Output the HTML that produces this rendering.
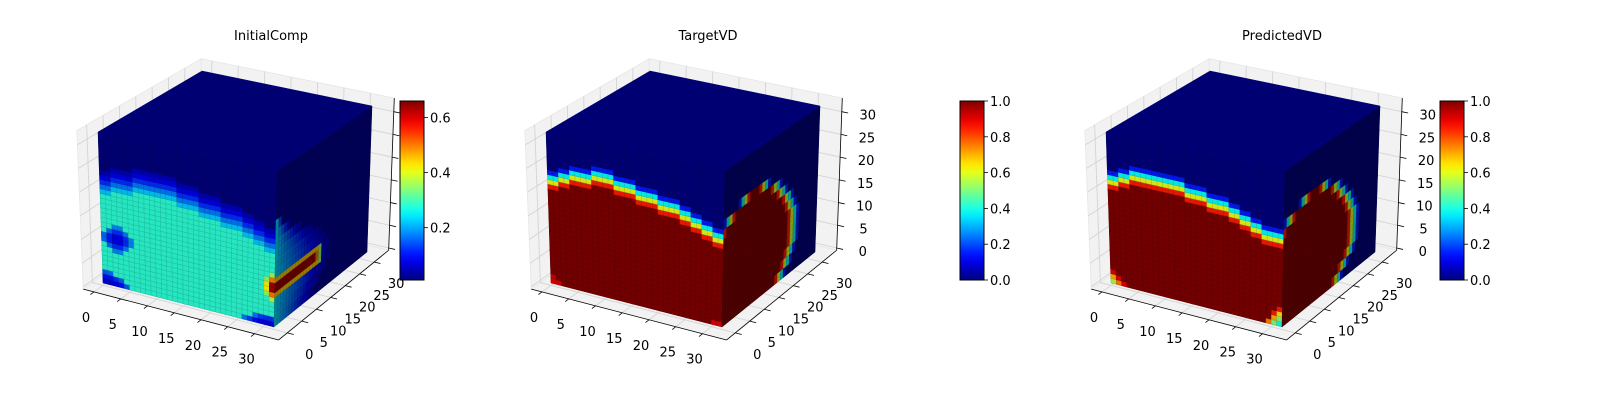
<!DOCTYPE html>
<html><head><meta charset="utf-8">
<style>
html,body{margin:0;padding:0;background:#fff;}
svg{display:block;}
text{font-family:"DejaVu Sans","Liberation Sans",sans-serif;fill:#000;}
</style></head>
<body>
<svg id="fig" width="1600" height="400" viewBox="0 0 1600 400" xmlns="http://www.w3.org/2000/svg">
<rect x="0" y="0" width="1600" height="400" fill="#fff"/>
</svg>
<script>
// ---------------- data ----------------
const titles = ["InitialComp", "TargetVD", "PredictedVD"];
const axisTicks = [0, 5, 10, 15, 20, 25, 30];
const cbTicksInit = [0.2, 0.4, 0.6];
const cbTicksVD = [0.0, 0.2, 0.4, 0.6, 0.8, 1.0];
const initRange = [0.01, 0.66];
const vdRange = [0.0, 1.0];

// InitialComp: top of cyan region per pair of x columns (front face)
const initFrontTop = [19, 20, 20.5, 21, 21, 21, 21, 20.5, 20, 19.5, 19, 18.5, 18, 17, 16, 15.5];
const initBand = [0.22, 0.17, 0.12, 0.08, 0.05];
const initFill = [0.28];
const initBg = [0.01];
// [col, z, value]
const initSpots = [
  [2,9,0.08],[3,9,0.08],[2,10,0.08],[3,10,0.09],[1,9,0.11],[4,9,0.12],[1,10,0.11],[4,10,0.12],
  [2,8,0.12],[3,8,0.12],[2,11,0.12],[3,11,0.12],[0,9,0.16],[5,9,0.18],[0,10,0.16],[5,10,0.18],
  [1,8,0.16],[4,8,0.17],[1,11,0.16],[4,11,0.17],[2,7,0.18],[3,7,0.18],[2,12,0.18],[3,12,0.18],
  [0,0,0.07],[1,0,0.07],[2,0,0.08],[3,0,0.1],[4,0,0.15],[0,1,0.1],[1,1,0.1],[2,1,0.12],[3,1,0.15],[0,2,0.15],[1,2,0.16],
  [26,0,0.17],[27,0,0.13],[28,0,0.1],[29,0,0.08],[30,0,0.07],[31,0,0.07],[28,1,0.17],[29,1,0.13],[30,1,0.12],[31,1,0.12],
  [31,6,0.5],[31,7,0.64],[31,8,0.64],[31,9,0.5],[30,7,0.42],[30,8,0.42],[31,5,0.38],[31,10,0.36],[30,6,0.35],[30,9,0.35]];
const initSideFade = [14, 16, 18, 19, 19, 18, 16, 13, 9, 5, 2, 0, 0, 0, 0, 0];
const rodZ = [7, 8];
const rodLen = [15];

// TargetVD
const targetFrontTop = [20, 21, 22, 22.5, 23, 23, 22.5, 22, 21.5, 21, 20.5, 20, 19, 18, 17, 16];
const targetSideMin = [0, 0, 0, 0, 0, 0, 0, 0, 0, 1, 4, 9, 99, 99, 99, 99];
const targetSideMax = [18, 20, 21, 21.6, 22, 22, 21.6, 20.9, 19.8, 18.1, 15.7, 12, -1, -1, -1, -1];
const targetSpots = [[0,0,0.9],[1,0,0.9],[0,1,0.92],[30,0,0.9],[31,0,0.9]];

// PredictedVD
const predFrontTop = [20, 21, 22, 22, 22.5, 22.5, 22, 21.5, 21, 20.5, 20, 19, 18, 17, 16.5, 16];
const predSideMin = [0, 0, 0, 0, 0, 0, 0, 0, 0, 1, 4, 9, 99, 99, 99, 99];
const predSideMax = [17, 19.5, 21, 21.6, 22, 22, 21.6, 20.9, 19.8, 18.1, 15.7, 12, -1, -1, -1, -1];
const predSpots = [[0,0,0.55],[1,0,0.75],[2,0,0.9],[0,1,0.7],[1,1,0.9],[0,2,0.9],
  [31,0,0.4],[30,0,0.5],[29,0,0.75],[31,1,0.5],[30,1,0.7],[31,2,0.65],[30,2,0.85],[31,3,0.85]];
const vdBand = [0.85, 0.6, 0.38, 0.15];

// ---------------- geometry ----------------
const N = 32;
const baseCorners = {c000:[103,283],c100:[274,327],c010:[200,213],c110:[367,252],
  c001:[98,132],c101:[277,171],c011:[202,71],c111:[372,106]};
const panelOffsets = [0, 448, 1008];
const titleX = [271, 708, 1282];
const cbX = [400, 960, 1440];
const cbTop = 101, cbBot = 280, cbW = 24;
const XR = [-2, 34.5], YR = [-3, 35], ZR = [-0.5, 33];
const FRONT_SHADE = 0.9, SIDE_SHADE = 0.6, TOP_SHADE = 0.95;

const SVGNS = "http://www.w3.org/2000/svg";
const svg = document.getElementById("fig");

function jet(t){
  t = Math.max(0, Math.min(1, t));
  const c = v => Math.max(0, Math.min(1, v));
  return [c(1.5-Math.abs(4*t-3)), c(1.5-Math.abs(4*t-2)), c(1.5-Math.abs(4*t-1))];
}
function rgb(a, f){ return "rgb(" + a.map(v => Math.round(v*255*f)).join(",") + ")"; }

function makeProj(off){
  const C = baseCorners;
  return function(x, y, z){
    const u = x/N, v = y/N, w = z/N;
    const r = [0, 0];
    for (let d = 0; d < 2; d++){
      const a00 = C.c000[d]*(1-u) + C.c100[d]*u;
      const a10 = C.c010[d]*(1-u) + C.c110[d]*u;
      const a01 = C.c001[d]*(1-u) + C.c101[d]*u;
      const a11 = C.c011[d]*(1-u) + C.c111[d]*u;
      const b0 = a00*(1-v) + a10*v;
      const b1 = a01*(1-v) + a11*v;
      r[d] = b0*(1-w) + b1*w;
    }
    r[0] += off;
    return r;
  };
}
function pts(arr){ return arr.map(p => p[0].toFixed(2)+","+p[1].toFixed(2)).join(" "); }
function el(tag, attrs, parent){
  const e = document.createElementNS(SVGNS, tag);
  for (const k in attrs) e.setAttribute(k, attrs[k]);
  (parent || svg).appendChild(e);
  return e;
}

function spotVal(spots, i, k){
  for (const s of spots) if (s[0] === i && s[1] === k) return s[2];
  return null;
}
function initFront(i, k){
  const s = spotVal(initSpots, i, k); if (s !== null) return s;
  const h = initFrontTop[i >> 1];
  if (k + 0.5 < h) return initFill[0];
  const d = Math.floor(k + 0.5 - h);
  return d < initBand.length ? initBand[d] : initBg[0];
}
function initSide(j, k){
  if (j < rodLen[0]){
    if (k === rodZ[0] || k === rodZ[1]) return j < rodLen[0] - 1 ? 0.64 : 0.5;
    if (k === rodZ[0]-1 || k === rodZ[1]+1) return 0.45;
  }
  if (j === rodLen[0] && k >= rodZ[0]-1 && k <= rodZ[1]+1) return 0.35;
  const e = initSideFade[k >> 1];
  if (j < e) return 0.03 + 0.2*(1 - j/e);
  return 0.02;
}
function vdFront(top, spots){
  return function(i, k){
    const s = spotVal(spots, i, k); if (s !== null) return s;
    const h = top[i >> 1];
    if (k + 0.5 < h) return 1;
    const d = Math.floor(k + 0.5 - h);
    return d < vdBand.length ? vdBand[d] : 0;
  };
}
function vdSide(mn, mx){
  return function(j, k){
    const r = k >> 1, lo = mn[r], hi = mx[r], y = j + 0.5;
    if (hi < 0) return 0;
    if (y >= lo && y < hi) return 1;
    const d = y < lo ? Math.floor(lo - y) : Math.floor(y - hi);
    return d < vdBand.length ? vdBand[d] : 0;
  };
}

const panels = [
  {front: initFront, side: initSide, top: () => 0.0, range: initRange, ticks: cbTicksInit, zlabels: false},
  {front: vdFront(targetFrontTop, targetSpots), side: vdSide(targetSideMin, targetSideMax), top: () => 0, range: vdRange, ticks: cbTicksVD, zlabels: true},
  {front: vdFront(predFrontTop, predSpots), side: vdSide(predSideMin, predSideMax), top: () => 0, range: vdRange, ticks: cbTicksVD, zlabels: true}
];

const defs = el("defs", {});
const grad = el("linearGradient", {id: "jetgrad", x1: "0", y1: "1", x2: "0", y2: "0"}, defs);
for (let s = 0; s <= 20; s++){
  el("stop", {offset: (s/20).toFixed(2), "stop-color": rgb(jet(s/20), 1)}, grad);
}

panels.forEach((P, pi) => {
  const off = panelOffsets[pi];
  const pr = makeProj(off);
  const g = el("g", {});
  
  

  const t = el("text", {x: titleX[pi], y: 40, "font-size": 13, "text-anchor": "middle"}, g);
  t.textContent = titles[pi];
  
  

  const [x0, x1] = XR, [y0, y1] = YR, [z0, z1] = ZR;
  const paneDefs = [
    ['left-pane', [[x0,y0,z0],[x0,y1,z0],[x0,y1,z1],[x0,y0,z1]]],
    ['back-pane', [[x0,y1,z0],[x1,y1,z0],[x1,y1,z1],[x0,y1,z1]]],
    ['floor-pane', [[x0,y0,z0],[x1,y0,z0],[x1,y1,z0],[x0,y1,z0]]]
  ];
  paneDefs.forEach(pd => {
    const p = el("polygon", {points: pts(pd[1].map(q => pr(...q))), fill: "#f2f2f2", stroke: "#e6e6e6", "stroke-width": 0.8}, g);
    
    
  });
  const gridG = el("g", {stroke: "#d4d4d4", "stroke-width": 0.9, fill: "none"}, g);
  
  
  axisTicks.forEach(tv => {
    const lines = [
      [[tv,y0,z0],[tv,y1,z0],[tv,y1,z1]],
      [[x1,tv,z0],[x0,tv,z0],[x0,tv,z1]],
      [[x0,y0,tv],[x0,y1,tv],[x1,y1,tv]]
    ];
    lines.forEach(l => {
      const pl = el("polyline", {points: pts(l.map(q => pr(...q)))}, gridG);
      
      
    });
  });
  const axG = el("g", {stroke: "#000", "stroke-width": 0.8, fill: "none"}, g);
  
  
  const axes = [
    ['x-axis', [x0,y0,z0], [x1,y0,z0]],
    ['y-axis', [x1,y0,z0], [x1,y1,z0]],
    ['z-axis', [x1,y1,z0], [x1,y1,z1]]
  ];
  axes.forEach(a => {
    const A = pr(...a[1]), B = pr(...a[2]);
    const ln = el("line", {x1: A[0], y1: A[1], x2: B[0], y2: B[1]}, axG);
    
    
  });
  const labG = el("g", {"font-size": 13}, g);
  
  
  axisTicks.forEach(tv => {
    let A = pr(tv, y0, z0), B = pr(tv, y0 - 1.2, z0);
    let tk = el("line", {x1: A[0], y1: A[1], x2: B[0], y2: B[1], stroke: "#000", "stroke-width": 0.8}, axG);
    
    
    let tx = el("text", {x: A[0] - 8, y: A[1] + 30, "text-anchor": "middle"}, labG);
    tx.textContent = tv;
    
    
    A = pr(x1, tv, z0); B = pr(x1 + 1.2, tv, z0);
    tk = el("line", {x1: A[0], y1: A[1], x2: B[0], y2: B[1], stroke: "#000", "stroke-width": 0.8}, axG);
    
    
    tx = el("text", {x: A[0] + 22, y: A[1] + 26, "text-anchor": "middle"}, labG);
    tx.textContent = tv;
    
    
    A = pr(x1, y1, tv); B = pr(x1 + 1.2, y1, tv);
    tk = el("line", {x1: A[0], y1: A[1], x2: B[0], y2: B[1], stroke: "#000", "stroke-width": 0.8}, axG);
    
    
    if (P.zlabels){
      tx = el("text", {x: A[0] + 26, y: A[1] + 8, "text-anchor": "middle"}, labG);
      tx.textContent = tv;
      
      
    }
  });

  const [vmin, vmax] = P.range;
  const norm = v => (v - vmin) / (vmax - vmin);
  const vg = el("g", {"stroke-width": 0.5}, g);
  
  
  for (let i = 0; i < N; i++) for (let k = 0; k < N; k++){
    const c = jet(norm(P.front(i, k)));
    const q = el("polygon", {points: pts([pr(i,0,k), pr(i+1,0,k), pr(i+1,0,k+1), pr(i,0,k+1)]), fill: rgb(c, FRONT_SHADE), stroke: rgb(c, FRONT_SHADE*0.82)}, vg);
    
    
  }
  for (let j = 0; j < N; j++) for (let k = 0; k < N; k++){
    const c = jet(norm(P.side(j, k)));
    const q = el("polygon", {points: pts([pr(N,j,k), pr(N,j+1,k), pr(N,j+1,k+1), pr(N,j,k+1)]), fill: rgb(c, SIDE_SHADE), stroke: rgb(c, SIDE_SHADE*0.85)}, vg);
    
    
  }
  for (let i = 0; i < N; i++) for (let j = 0; j < N; j++){
    const c = jet(norm(P.top(i, j)));
    const q = el("polygon", {points: pts([pr(i,j,N), pr(i+1,j,N), pr(i+1,j+1,N), pr(i,j+1,N)]), fill: rgb(c, TOP_SHADE), stroke: rgb(c, TOP_SHADE*0.85)}, vg);
    
    
  }

  const cg = el("g", {}, svg);
  
  
  const cx = cbX[pi];
  const bar = el("rect", {x: cx, y: cbTop, width: cbW, height: cbBot - cbTop, fill: "url(#jetgrad)", stroke: "#000", "stroke-width": 1}, cg);
  
  
  P.ticks.forEach(tv => {
    const yy = cbBot - norm(tv) * (cbBot - cbTop);
    const tk = el("line", {x1: cx + cbW, y1: yy, x2: cx + cbW + 4, y2: yy, stroke: "#000", "stroke-width": 0.8}, cg);
    
    
    const tl = el("text", {x: cx + cbW + 6, y: yy + 5, "font-size": 13}, cg);
    tl.textContent = tv.toFixed(1);
    
    
  });
});
</script>
</body></html>
